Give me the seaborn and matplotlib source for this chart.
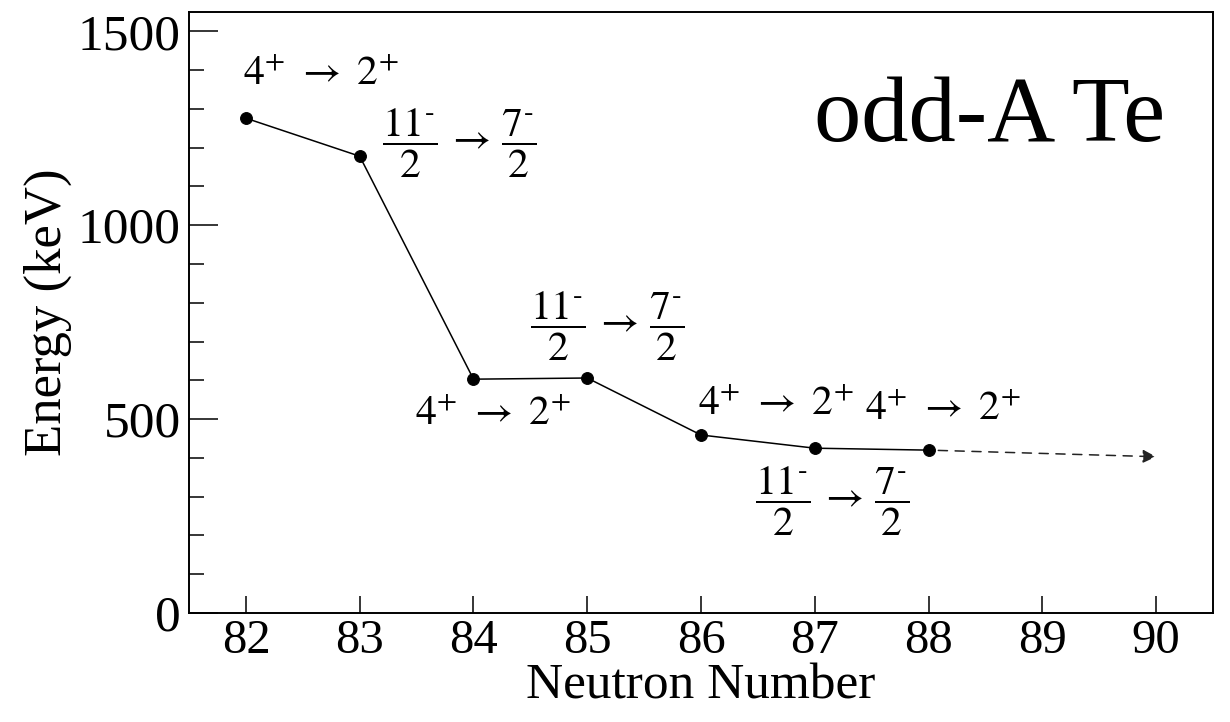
import numpy as np
import pandas as pd
import matplotlib
matplotlib.use('Agg')
import matplotlib.pyplot as plt
import seaborn as sns

# %% data
neutron_number = [82, 83, 84, 85, 86, 87, 88]
energy_kev = [1276, 1178, 603, 606, 459, 425, 420]
trend_x = [88, 90]
trend_y = [420, 403]

even_label = r'$4^{+}\ \rightarrow\ 2^{+}$'
odd_label = r'$\dfrac{11^{\text{-}}}{2}\,\rightarrow\,\dfrac{7^{\text{-}}}{2}$'
point_labels = [even_label, odd_label, even_label, odd_label,
                even_label, odd_label, even_label]
# label anchor (left, centre) in data coords
label_pos = [(81.97, 1387), (83.2, 1210), (83.49, 511), (84.5, 738),
             (85.97, 536), (86.47, 287), (87.44, 524)]

# %% plotting
sns.set_style('ticks')
plt.rcParams['font.family'] = ['Liberation Serif', 'DejaVu Serif']
plt.rcParams['mathtext.fontset'] = 'stix'
for key in ['text.color', 'axes.labelcolor', 'xtick.color', 'ytick.color',
            'axes.edgecolor']:
    plt.rcParams[key] = 'black'

df = pd.DataFrame({'N': neutron_number, 'E': energy_kev})

fig = plt.figure(figsize=(12.3, 7.22), dpi=100)
ax = fig.add_axes([0.1537, 0.151, 0.8325, 0.8324])

sns.lineplot(data=df, x='N', y='E', ax=ax, color='black', linewidth=1.1,
             marker='o', markersize=8.5, markeredgecolor='black')

ax.annotate('', xy=(trend_x[1], trend_y[1]), xytext=(trend_x[0], trend_y[0]),
            arrowprops=dict(arrowstyle='-|>', linestyle=(0, (6, 5)),
                            color='#222222', lw=1.1, mutation_scale=20,
                            shrinkA=7, shrinkB=0))

for txt, (lx, ly) in zip(point_labels, label_pos):
    ax.text(lx, ly, txt, fontsize=30, ha='left', va='center')

ax.text(0.953, 0.822, 'odd-A Te', transform=ax.transAxes, fontsize=68,
        ha='right', va='center')

ax.set_xlim(81.5, 90.5)
ax.set_ylim(0, 1550)
ax.set_xticks(range(82, 91))
ax.set_yticks([0, 500, 1000, 1500])
ax.set_yticks(np.arange(0, 1550, 100), minor=True)
ax.tick_params(axis='y', which='major', direction='in', length=21,
               width=1.1, labelsize=37, pad=6)
ax.tick_params(axis='y', which='minor', direction='in', length=11,
               width=1.1)
ax.tick_params(axis='x', which='major', direction='in', length=12,
               width=1.1, labelsize=35, pad=4)
for s in ax.spines.values():
    s.set_linewidth(1.4)

ax.set_xlabel('Neutron Number', fontsize=37, labelpad=0)
ax.set_ylabel('Energy (keV)', fontsize=38, labelpad=4)

fig.savefig('out.png', dpi=100)
